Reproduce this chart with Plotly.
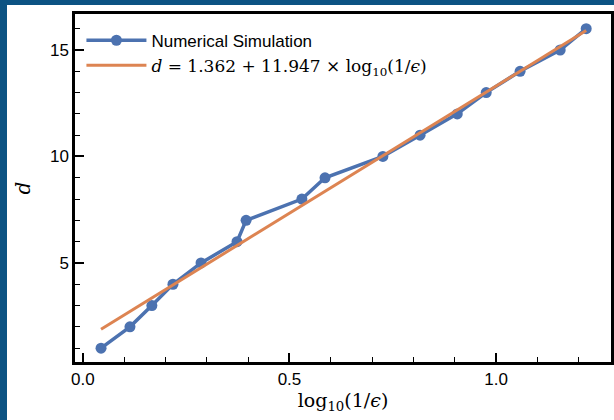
import plotly.graph_objects as go

# Data
x_sim = [0.044, 0.114, 0.167, 0.218, 0.286, 0.373, 0.395, 0.530, 0.586, 0.726,
         0.816, 0.906, 0.976, 1.058, 1.155, 1.218]
d_sim = [1, 2, 3, 4, 5, 6, 7, 8, 9, 10, 11, 12, 13, 14, 15, 16]
fit_intercept = 1.362
fit_slope = 11.947
x_fit = [x_sim[0], x_sim[-1]]
d_fit = [fit_intercept + fit_slope * v for v in x_fit]

BLUE = "#4c72b0"
ORANGE = "#dd8452"
FRAME = "#0c5383"
SERIF = "'DejaVu Serif', 'Liberation Serif', serif"

fig = go.Figure()
fig.add_trace(go.Scatter(
    x=x_sim, y=d_sim, mode="lines+markers", name="Numerical Simulation",
    line=dict(color=BLUE, width=3.5), marker=dict(color=BLUE, size=11),
))
fig.add_trace(go.Scatter(
    x=x_fit, y=d_fit, mode="lines",
    name=(f"<span style=\"font-family:{SERIF}\"><i>d</i> = {fit_intercept} + {fit_slope} × "
          f"log<sub>10</sub>(1/<i>ϵ</i>)</span>"),
    line=dict(color=ORANGE, width=3),
))

L, R, T, B = 75, 3, 14, 58
W, H = 614, 420
pw, ph = W - L - R, H - T - B

fig.update_layout(
    width=W, height=H,
    margin=dict(l=L, r=R, t=T, b=B, autoexpand=False),
    paper_bgcolor="white", plot_bgcolor="white",
    font=dict(family="'Liberation Sans', Arial, sans-serif", size=17, color="black"),
    showlegend=True,
    legend=dict(x=0.012, y=0.975, xanchor="left", yanchor="top",
                bgcolor="rgba(255,255,255,0)", font=dict(size=17),
                tracegroupgap=0, itemwidth=60),
    shapes=[
        dict(type="rect", xref="paper", yref="paper",
             x0=-L / pw - 0.05, x1=-(L - 7) / pw, y0=-B / ph - 0.1, y1=1 + T / ph + 0.1,
             fillcolor=FRAME, line=dict(width=0)),
        dict(type="rect", xref="paper", yref="paper",
             x0=-L / pw - 0.05, x1=1 + R / pw + 0.1, y0=1 + (T - 5) / ph, y1=1 + T / ph + 0.1,
             fillcolor=FRAME, line=dict(width=0)),
    ],
)

fig.update_xaxes(
    range=[-0.019, 1.278], automargin=False,
    tickvals=[0.0, 0.5, 1.0], ticktext=["0.0", "0.5", "1.0"],
    ticks="inside", ticklen=9, tickwidth=1.5, tickcolor="black",
    minor=dict(dtick=0.1, tick0=0, ticks="inside", ticklen=5, tickwidth=1.2, tickcolor="black"),
    showline=True, linecolor="black", linewidth=2.5, mirror=True,
    showgrid=False, zeroline=False,
    title=dict(text="log<sub>10</sub>(1/<i>ϵ</i>)", font=dict(family=SERIF, size=19), standoff=2),
)
fig.update_yaxes(
    range=[0.35, 16.69], automargin=False,
    tickvals=[5, 10, 15],
    ticks="inside", ticklen=9, tickwidth=1.5, tickcolor="black",
    minor=dict(dtick=1, tick0=0, ticks="inside", ticklen=5, tickwidth=1.2, tickcolor="black"),
    showline=True, linecolor="black", linewidth=2.5, mirror=True,
    showgrid=False, zeroline=False,
    title=dict(text="<i>d</i>", font=dict(family=SERIF, size=20), standoff=14),
)

fig.write_html("out.html", config={"displayModeBar": False},
               post_script="document.body.style.margin='0';document.body.style.overflow='hidden';")
